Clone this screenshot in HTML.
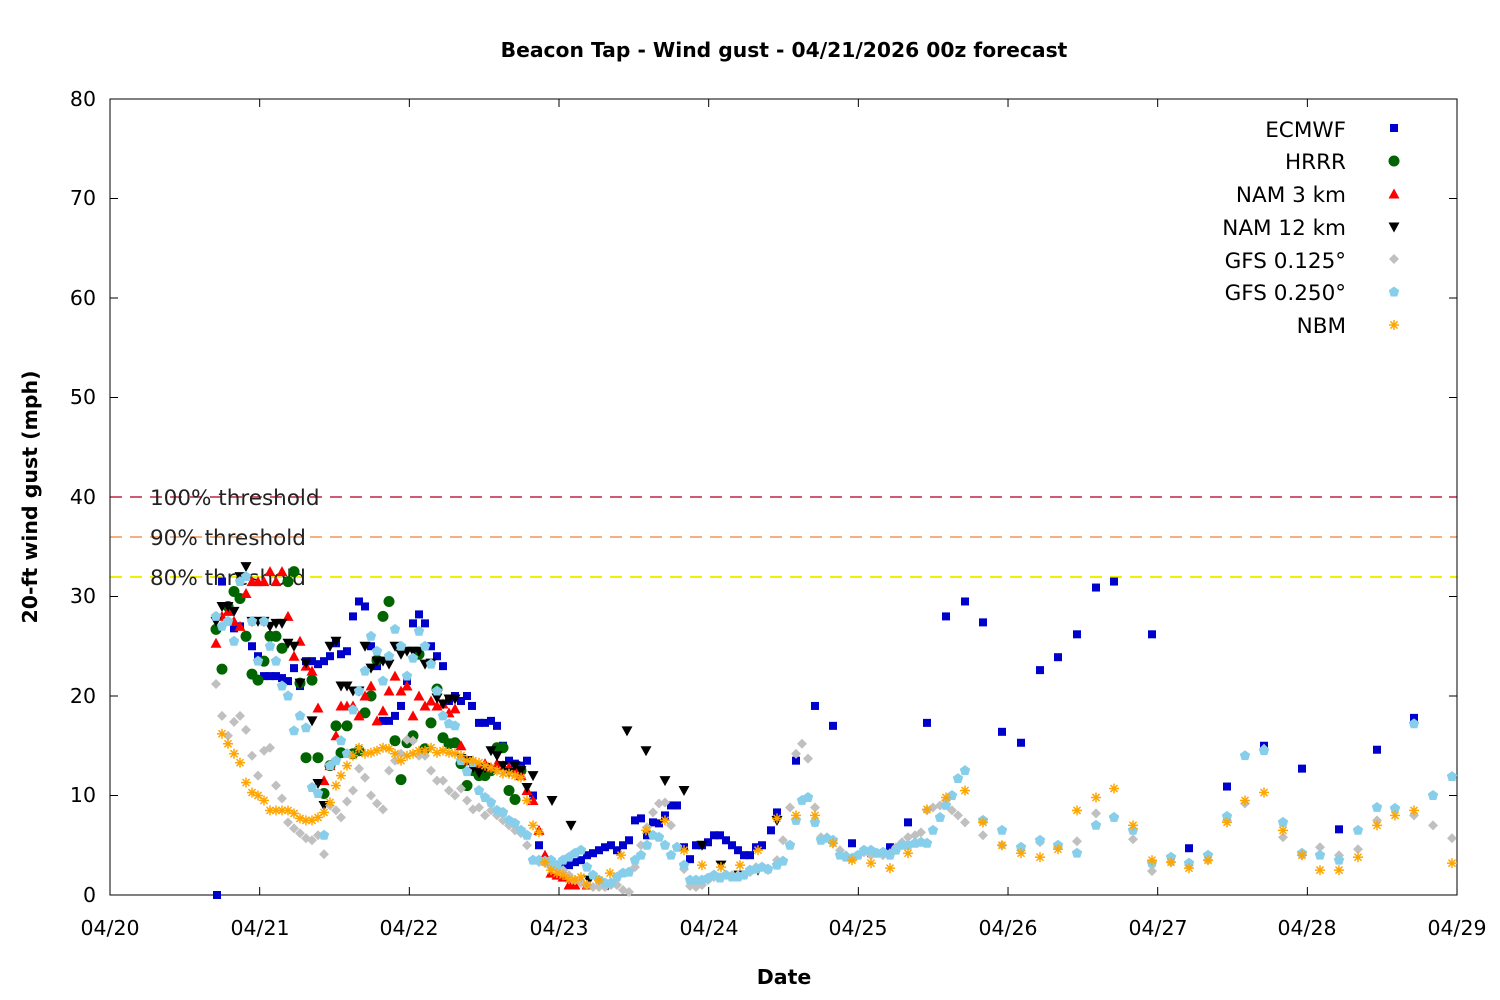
<!DOCTYPE html>
<html><head><meta charset="utf-8"><style>
html,body{margin:0;padding:0;background:#fff;}
svg{display:block;font-family:"DejaVu Sans","Liberation Sans",sans-serif;}
</style></head><body>
<svg id="c" width="1500" height="1000" xmlns="http://www.w3.org/2000/svg">
<rect width="1500" height="1000" fill="#fff"/>
<text x="784" y="57" text-anchor="middle" font-size="20.3" font-weight="bold">Beacon Tap - Wind gust - 04/21/2026 00z forecast</text>
<text x="784" y="984" text-anchor="middle" font-size="20.5" font-weight="bold">Date</text>
<text transform="translate(37,497) rotate(-90)" text-anchor="middle" font-size="20.5" font-weight="bold">20-ft wind gust (mph)</text>
<g font-size="20.5" text-anchor="end">
<text x="96" y="106">80</text><text x="96" y="205">70</text><text x="96" y="305">60</text><text x="96" y="404">50</text>
<text x="96" y="504">40</text><text x="96" y="603">30</text><text x="96" y="703">20</text><text x="96" y="802">10</text><text x="96" y="902">0</text>
</g>
<g font-size="20.5" text-anchor="middle">
<text x="110" y="935">04/20</text><text x="260" y="935">04/21</text><text x="409" y="935">04/22</text><text x="559" y="935">04/23</text>
<text x="709" y="935">04/24</text><text x="858" y="935">04/25</text><text x="1008" y="935">04/26</text><text x="1158" y="935">04/27</text>
<text x="1307" y="935">04/28</text><text x="1457" y="935">04/29</text>
</g>
<g id="ticks" stroke="#000" stroke-width="1"></g>
<line x1="110" y1="497" x2="1457" y2="497" stroke="#d05a70" stroke-width="2" stroke-dasharray="12,8"/>
<line x1="110" y1="537" x2="1457" y2="537" stroke="#f4b080" stroke-width="2" stroke-dasharray="12,8"/>
<line x1="110" y1="577" x2="1457" y2="577" stroke="#f0f000" stroke-width="2" stroke-dasharray="12,8"/>
<g font-size="21.5" fill="#222">
<text x="150" y="505">100% threshold</text><text x="150" y="545">90% threshold</text><text x="150" y="585">80% threshold</text>
</g>
<rect x="110" y="99" width="1347" height="796" fill="none" stroke="#000" stroke-width="1"/>
<g font-size="21.5" text-anchor="end">
<text x="1346" y="137">ECMWF</text><text x="1346" y="169">HRRR</text><text x="1346" y="202">NAM 3 km</text>
<text x="1346" y="235">NAM 12 km</text><text x="1346" y="268">GFS 0.125°</text><text x="1346" y="300">GFS 0.250°</text><text x="1346" y="333">NBM</text>
</g>
<g id="pts"></g>
</svg>
<script>
var NS="http://www.w3.org/2000/svg",g=document.getElementById('pts'),tk=document.getElementById('ticks');
function el(n,a,p){var e=document.createElementNS(NS,n);for(var k in a)e.setAttribute(k,a[k]);(p||g).appendChild(e);return e;}
for(var i=0;i<=8;i++){var y=99+i*99.5;el('line',{x1:110,y1:y,x2:118,y2:y},tk);el('line',{x1:1457,y1:y,x2:1449,y2:y},tk);}
for(var i=0;i<=9;i++){var x=110+i*149.67;el('line',{x1:x,y1:895,x2:x,y2:887},tk);el('line',{x1:x,y1:99,x2:x,y2:107},tk);}
function Y(v){return 895-v*9.95;}
function mk(t,x,y,c){
 if(t=='sq')el('rect',{x:x-4,y:y-4,width:8,height:8,fill:c});
 else if(t=='ci')el('circle',{cx:x,cy:y,r:5.5,fill:c});
 else if(t=='up')el('polygon',{points:(x-5.5)+','+(y+4.5)+' '+(x+5.5)+','+(y+4.5)+' '+x+','+(y-5.5),fill:c});
 else if(t=='dn')el('polygon',{points:(x-5.5)+','+(y-4.5)+' '+(x+5.5)+','+(y-4.5)+' '+x+','+(y+5.5),fill:c});
 else if(t=='di')el('polygon',{points:x+','+(y-5)+' '+(x+5)+','+y+' '+x+','+(y+5)+' '+(x-5)+','+y,fill:c});
 else if(t=='pe'){var p=[];for(var k=0;k<5;k++){var a=-Math.PI/2+k*2*Math.PI/5;p.push((x+5.5*Math.cos(a))+','+(y+5.5*Math.sin(a)));}el('polygon',{points:p.join(' '),fill:c});}
 else if(t=='as'){for(var k=0;k<4;k++){var a=k*Math.PI/4;el('line',{x1:x-5*Math.cos(a),y1:y-5*Math.sin(a),x2:x+5*Math.cos(a),y2:y+5*Math.sin(a),stroke:c,'stroke-width':1.5});}}
}
function ser(t,c,d){for(var i=0;i<d.length;i+=2)mk(t,d[i],Y(d[i+1]),c);}
var E=[217,0,222,31.5,228,29,234,26.8,240,27,246,26,252,25,258,24,264,22,270,22,276,22,282,21.8,288,21.5,294,22.8,300,21,306,23.5,312,23.5,318,23.2,324,23.5,330,24,336,25.3,341,24.2,347,24.5,353,28,359,29.5,365,29,371,25,377,23,383,17.5,389,17.5,395,18,401,19,407,21.5,413,27.3,419,28.2,425,27.3,431,25,437,24,443,23,449,19.5,455,20,461,19.5,467,20,472,19,479,17.3,485,17.3,491,17.5,497,17,503,15,509,13.5,515,13.2,521,13,527,13.5,533,10,539,5,545,3.5,551,3.3,557,3,563,3,569,3,575,3.3,581,3.5,587,4,593,4.2,599,4.5,605,4.8,611,5,617,4.5,623,5,629,5.5,635,7.5,641,7.7,647,6,653,7.3,659,7.2,665,8,671,9,677,9,684,4.8,690,3.6,696,5,702,5,708,5.3,714,6,720,6,726,5.5,732,5,738,4.5,744,4,750,4,756,4.8,762,5,771,6.5,777,8.3,796,13.5,815,19,833,17,852,5.2,871,4.2,890,4.8,908,7.3,927,17.3,946,28,965,29.5,983,27.4,1002,16.4,1021,15.3,1040,22.6,1058,23.9,1077,26.2,1096,30.9,1114,31.5,1152,26.2,1189,4.7,1227,10.9,1264,15,1302,12.7,1339,6.6,1377,14.6,1414,17.8];
var H=[216,26.7,222,22.7,228,29,234,30.5,240,29.8,246,26,252,22.2,258,21.6,264,23.5,270,26,276,26,282,24.8,288,31.5,294,32.5,300,21.3,306,13.8,312,21.6,318,13.8,324,10.2,330,13,336,17,341,14.3,347,17,353,14.2,359,14.5,365,18.3,371,20,377,23.6,383,28,389,29.5,395,15.5,401,11.6,407,15.3,413,16,419,24.2,425,14.7,431,17.3,437,20.7,443,15.8,449,15.2,455,15.3,461,13.2,467,11,473,12.5,479,12,485,12,491,12.5,497,14.8,503,14.8,509,10.5,515,9.6,521,12.5];
var N3=[216,25.3,222,28,228,28.5,234,27.5,240,27,246,30.3,252,31.5,258,31.5,264,31.5,270,32.5,276,31.5,282,32.5,288,28,294,24,300,25.5,306,23,312,22.5,318,18.8,324,11.5,330,13,336,16,341,19,347,19,353,19,359,18,365,20,371,21,377,17.5,383,18.5,389,20.5,395,22,401,20.5,407,21,413,18,419,20,425,19,431,19.5,437,19,443,19.2,449,18.3,455,18.7,461,15,467,13.5,473,13,479,13,485,13.2,491,12.8,497,13.2,503,13,509,12.8,515,12.7,521,12,527,10.5,533,9.5,539,6.5,545,4,551,2.2,557,2,563,1.8,569,1,575,1,581,1.5,587,1];
var N12=[216,27.5,222,29,228,29,234,28.5,240,32,246,33,252,27.5,258,27.5,264,27.5,270,27,276,27.3,282,27.3,288,25.3,294,25,300,21.3,306,23.3,312,17.5,318,11.2,324,9,330,25,336,25.5,341,21,347,21,353,20.5,359,20.5,365,25,371,22.8,377,23.5,383,23.5,389,23.2,395,25,401,24.2,407,24.5,413,24.5,419,24.5,425,23.2,431,23.3,437,19.8,443,19.2,449,19.7,455,19.7,461,13.7,467,13.5,473,12.8,479,12.3,485,12.8,491,14.5,497,14,503,13,509,12.3,515,13,521,12.5,527,10.8,533,12,552,9.5,571,7,589,1.5,608,1,627,16.5,646,14.5,665,11.5,684,10.5,702,5,721,3,739,2,758,2.5,777,7.5];
var G1=[216,21.2,222,18,228,16,234,17.4,240,18,246,16.6,252,14,258,12,264,14.5,270,14.8,276,11,282,9.7,288,7.3,294,6.7,300,6.2,306,5.7,312,5.5,318,6,324,4.1,330,9,336,8.5,341,7.8,347,9.4,353,10.5,359,12.7,365,11.8,371,10,377,9.2,383,8.6,389,12.5,395,13.5,401,14.2,407,15.6,413,15.5,419,14,425,14,431,12.5,437,11.5,443,11.5,449,10.5,455,10,461,10.7,467,9.5,473,8.6,479,8.8,485,8,491,8.5,497,8,503,7.5,509,7,515,6.5,521,6.2,527,5,533,3.5,539,3.3,545,3.2,551,2.8,557,2.8,563,2.5,569,2,575,1.5,581,1.2,587,1,593,0.8,599,0.8,605,0.8,611,1,617,1,623,0.5,629,0.3,635,2.8,641,5,647,6.8,653,8.3,659,9.2,665,9.3,671,7,677,4.8,684,2.6,690,0.9,696,0.8,702,1,708,1.5,714,1.8,720,1.8,726,2,732,2,738,2,744,2,750,2.3,756,2.8,762,2.8,768,2.5,777,3.5,783,5.5,790,8.8,796,14.2,802,15.2,808,13.7,815,8.8,821,5.8,827,5.8,833,5.2,840,4.5,846,4,852,3.7,858,4,864,4.3,871,4,877,4.2,883,4,890,4.2,896,4.8,902,5.3,908,5.8,915,6,921,6.3,927,8.5,933,8.8,940,9,946,9.5,952,8.5,958,8,965,7.3,983,6,1002,5,1021,4.5,1040,5.3,1058,4.8,1077,5.4,1096,8.2,1114,7.8,1133,5.6,1152,2.4,1171,3.3,1189,3,1208,3.5,1227,7.5,1245,9.2,1264,14.7,1283,5.8,1302,4,1320,4.8,1339,4,1358,4.6,1377,7.5,1395,8.7,1414,8,1433,7,1452,5.7];
var G2=[216,28,222,27,228,27.5,234,25.5,240,31.5,246,32,252,27.5,258,23.5,264,27.5,270,25,276,23.5,282,21,288,20,294,16.5,300,18,306,16.8,312,10.8,318,10.2,324,6,330,13,336,13.5,341,15.5,347,14.2,353,18.6,359,20.5,365,22.5,371,26,377,24.5,383,21.5,389,24,395,26.7,401,25,407,22,413,23.8,419,26.5,425,25,431,23.2,437,20.5,443,18,449,17.2,455,17,461,13.5,467,12.4,473,13.3,479,10.5,485,9.8,491,9.3,497,8.5,503,8.3,509,7.5,515,7.2,521,6.5,527,6,533,3.5,539,3.5,545,3.4,551,3.5,557,3,563,3.5,569,3.8,575,4.2,581,4.5,587,2.8,593,2,599,1.5,605,1.2,611,1.2,617,1.8,623,2.2,629,2.3,635,3.5,641,4,647,5,653,6,659,5.8,665,5,671,4,677,4.8,684,3,690,1.5,696,1.5,702,1.5,708,1.7,714,2,720,1.7,726,2,732,1.8,738,1.8,744,2,750,2.5,756,2.6,762,2.8,768,2.6,777,3,783,3.4,790,5,796,7.5,802,9.5,808,9.8,815,7.3,821,5.5,827,5.7,833,5.5,840,4,846,3.8,852,3.7,858,4,864,4.5,871,4.5,877,4.2,883,4.3,890,4,896,4.5,902,5,908,5,915,5.2,921,5.3,927,5.2,933,6.5,940,7.8,946,9,952,10,958,11.7,965,12.5,983,7.5,1002,6.5,1021,4.8,1040,5.5,1058,5,1077,4.2,1096,7,1114,7.8,1133,6.5,1152,3.2,1171,3.8,1189,3.2,1208,4,1227,7.9,1245,14,1264,14.5,1283,7.3,1302,4.2,1320,4,1339,3.5,1358,6.5,1377,8.8,1395,8.7,1414,17.2,1433,10,1452,11.9];
var NB=[222,16.2,228,15.2,234,14.2,240,13.3,246,11.3,252,10.3,258,10,264,9.5,270,8.5,276,8.5,282,8.5,288,8.5,294,8.2,300,7.7,306,7.5,312,7.5,318,7.8,324,8.3,330,9.3,336,11,341,12,347,13,353,14,359,14.8,365,14.2,371,14.3,377,14.5,383,14.8,389,14.7,395,14.2,401,13.5,407,14,413,14.2,419,14.5,425,14.5,431,14.8,437,14.3,443,14.5,449,14.3,455,14.2,461,14,467,13.5,473,13.5,479,13.3,485,13,491,12.8,497,12.5,503,12.2,509,12.2,515,12,521,11.8,527,9.5,533,7,539,6.3,545,3.3,551,2.5,557,2.2,563,2,569,1.6,575,1.5,581,1.8,587,1,599,1.5,610,2.2,621,4,646,6.5,665,7.5,684,4.5,702,3,721,2.8,740,3,758,4.5,777,7.7,796,8,815,8,833,5.2,852,3.5,871,3.2,890,2.7,908,4.2,927,8.6,946,9.8,965,10.5,983,7.3,1002,5,1021,4.2,1040,3.8,1058,4.6,1077,8.5,1096,9.8,1114,10.7,1133,7,1152,3.5,1171,3.3,1189,2.7,1208,3.5,1227,7.3,1245,9.5,1264,10.3,1283,6.5,1302,4,1320,2.5,1339,2.5,1358,3.8,1377,7,1395,8,1414,8.5,1452,3.2];
ser('sq','#0000cc',E);ser('ci','#006400',H);ser('up','#ff0000',N3);ser('dn','#000000',N12);
ser('di','#c0c0c0',G1);ser('pe','#87ceeb',G2);ser('as','#ffa500',NB);
mk('sq',1394,128,'#0000cc');mk('ci',1394,161,'#006400');mk('up',1394,194,'#ff0000');mk('dn',1394,227,'#000000');
mk('di',1394,259,'#c0c0c0');mk('pe',1394,292,'#87ceeb');mk('as',1394,325,'#ffa500');
</script>
</body></html>
